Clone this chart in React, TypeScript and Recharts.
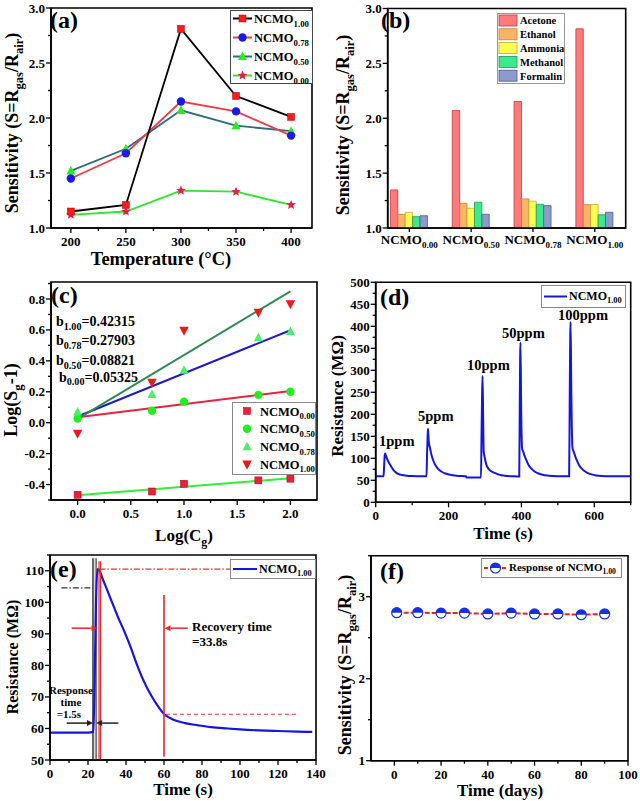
import React from 'react';
import {
  LineChart, Line, XAxis, YAxis, BarChart, Bar, ComposedChart, Scatter,
  ReferenceArea, ReferenceLine, Legend,
} from 'recharts';

const FONT = '"Liberation Serif", "DejaVu Serif", serif';

// ---------------- (a) sensitivity vs temperature
const tempsA = [200, 250, 300, 350, 400];
const sensA100 = [1.15, 1.21, 2.81, 2.2, 2.01];
const sensA078 = [1.45, 1.68, 2.15, 2.06, 1.84];
const sensA050 = [1.52, 1.72, 2.07, 1.93, 1.88];
const sensA000 = [1.12, 1.15, 1.34, 1.33, 1.21];
const xTicksA = [200, 225, 250, 275, 300, 325, 350, 375, 400];
const xMajorA = [200, 250, 300, 350, 400];
const yTicksA = [1, 1.25, 1.5, 1.75, 2, 2.25, 2.5, 2.75, 3];
const yMajorA = [1, 1.5, 2, 2.5, 3];

// ---------------- (b) selectivity bars
const samplesB = ['0.00', '0.50', '0.78', '1.00'];
const gasesB = ['Acetone', 'Ethanol', 'Ammonia', 'Methanol', 'Formalin'];
const acetoneB = [1.347, 2.07, 2.153, 2.815];
const ethanolB = [1.125, 1.225, 1.265, 1.213];
const ammoniaB = [1.143, 1.18, 1.244, 1.213];
const methanolB = [1.103, 1.235, 1.216, 1.12];
const formalinB = [1.112, 1.125, 1.204, 1.143];
const xTicksB = [1, 2, 3, 4];

// ---------------- (c) log-log fits
const logConcC = [0, 0.699, 1, 1.699, 2];
const c000 = [-0.466, -0.445, -0.395, -0.373, -0.362];
const c050 = [0.027, 0.077, 0.135, 0.18, 0.2];
const c078 = [0.07, 0.183, 0.34, 0.55, 0.59];
const c100 = [-0.07, 0.26, 0.596, 0.713, 0.768];
const fitXC = [0, 2];
const fit000 = [-0.47, -0.36];
const fit050 = [0.035, 0.205];
const fit078 = [0.04, 0.598];
const fit100 = [0.025, 0.85];
const slopeSubsC = ['1.00', '0.78', '0.50', '0.00'];
const slopeValsC = ['0.42315', '0.27903', '0.08821', '0.05325'];
const xTicksC = [0, 0.25, 0.5, 0.75, 1, 1.25, 1.5, 1.75, 2];
const xMajorC = [0, 0.5, 1, 1.5, 2];
const yTicksC = [-0.5, -0.4, -0.3, -0.2, -0.1, 0, 0.1, 0.2, 0.3, 0.4, 0.5, 0.6, 0.7, 0.8, 0.9];
const yMajorC = [-0.4, -0.2, 0, 0.2, 0.4, 0.6, 0.8];

// ---------------- (d) dynamic response (time s, resistance MOhm)
const curveD: [number, number][] = [
  [0, 59], [21.5, 59], [23, 80], [24.5, 105], [25.5, 111], [28, 106], [31, 99], [35, 92], [40, 85],
  [45, 78], [50, 72], [56, 67.5], [63, 64], [72, 62], [85, 60.5], [100, 59.7], [120, 59.3], [139.5, 59],
  [141, 110], [142.5, 150], [143.5, 167], [146, 135], [149, 124], [153, 108], [158, 95], [164, 84],
  [171, 76], [180, 70], [191, 65.5], [205, 62.5], [222, 60.5], [248, 59.3], [249, 56.5], [289, 56.5],
  [290.5, 150], [292, 240], [293.3, 287], [295, 190], [296.5, 115], [299, 103], [303.5, 86], [309, 77],
  [316, 71], [326, 67], [338, 63], [355, 60.3], [375, 59.2], [394, 58.5],
  [395.3, 200], [396.5, 330], [397.5, 363], [399.5, 200], [402, 122], [405, 115], [409, 105], [414, 95],
  [420, 84], [428, 76], [436, 70], [445, 66], [458, 62.5], [475, 60.5], [500, 59.3], [531, 59],
  [532.5, 220], [534, 380], [535, 410], [537, 250], [540, 125], [544, 114], [548, 104], [553, 94],
  [558, 85], [565, 77], [572, 71.5], [581, 67], [592, 63.5], [605, 61], [620, 59.8], [650, 59.2], [700, 59],
];
const ppmLabelsD = ['1ppm', '5ppm', '10ppm', '50ppm', '100ppm'];
const xTicksD = [0, 100, 200, 300, 400, 500, 600, 700];
const xMajorD = [0, 200, 400, 600];
const yTicksD = [0, 25, 50, 75, 100, 125, 150, 175, 200, 225, 250, 275, 300, 325, 350, 375, 400, 425, 450, 475, 500];
const yMajorD = [0, 50, 100, 150, 200, 250, 300, 350, 400, 450, 500];

// ---------------- (e) single 1 ppm cycle
const curveE: [number, number][] = [
  [0, 58.7], [10, 58.7], [20, 58.7], [22.8, 58.9], [23.5, 75], [24.2, 100], [25, 110.5], [26, 110],
  [28, 107], [30, 104], [33, 99.5], [36, 95], [38.6, 91.5], [42, 86.5], [45.6, 80.5], [49, 75.5], [53.5, 70.2],
  [56, 67.8], [60, 64.6], [65, 62.8], [71, 61.7], [78, 61], [85, 60.4], [93, 60], [100, 59.7], [110, 59.4],
  [120, 59.2], [130, 59], [138, 58.9],
];
const xTicksE = [0, 10, 20, 30, 40, 50, 60, 70, 80, 90, 100, 110, 120, 130, 140];
const xMajorE = [0, 20, 40, 60, 80, 100, 120, 140];
const yTicksE = [50, 55, 60, 65, 70, 75, 80, 85, 90, 95, 100, 105, 110, 115];
const yMajorE = [50, 60, 70, 80, 90, 100, 110];

// ---------------- (f) long-term stability
const daysF = [1, 10, 20, 30, 40, 50, 60, 70, 80, 90];
const sensF = [2.805, 2.805, 2.8, 2.8, 2.79, 2.8, 2.79, 2.79, 2.78, 2.79];
const xTicksF = [0, 10, 20, 30, 40, 50, 60, 70, 80, 90, 100];
const xMajorF = [0, 20, 40, 60, 80, 100];
const yTicksF = [1, 1.5, 2, 2.5, 3, 3.5];
const yMajorF = [1, 2, 3];

// ================= helpers
type Part = [string, boolean];
const SENS_PARTS: Part[] = [['Sensitivity (S=R', false], ['gas', true], ['/R', false], ['air', true], [')', false]];
const AXIS = { stroke: '#000', strokeWidth: 1.6 };
const isIn = (arr: number[], v: number) => arr.some((m) => Math.abs(m - v) < 1e-6);

function RichText(props: any) {
  const { px, py, parts, fs, rotate = false, anchor = 'middle', center = false, fill = '#000', subScale = 0.7 } = props;
  const sub = fs * subScale;
  const shift = fs * 0.28;
  let inSub = false;
  const spans = (parts as Part[]).map(([t, isSub], i) => {
    let dy = 0;
    if (isSub && !inSub) dy = shift;
    if (!isSub && inSub) dy = -shift;
    inSub = isSub;
    return (
      <tspan key={i} dy={dy} fontSize={isSub ? sub : fs}>{t}</tspan>
    );
  });
  const y = center ? py + fs * 0.35 : py;
  return (
    <text
      x={px}
      y={y}
      textAnchor={anchor}
      fontFamily={FONT}
      fontWeight="bold"
      fontSize={fs}
      fill={fill}
      transform={rotate ? `rotate(-90 ${px} ${py})` : undefined}
    >
      {spans}
    </text>
  );
}

function AxisTitle(props: any) {
  return <RichText px={props.cx0} py={props.cy0} parts={props.parts} fs={props.fs} rotate={props.rot} center />;
}

const xTick = (majors: number[], fmt: (v: number) => string, fs = 13) => (p: any) => {
  const { x, y, payload } = p;
  const v = Number(payload.value);
  const major = isIn(majors, v);
  return (
    <g>
      <line x1={x} x2={x} y1={y} y2={y + (major ? 5 : 3)} stroke="#000" strokeWidth={1.3} />
      {major ? (
        <text x={x} y={y + 18} textAnchor="middle" fontFamily={FONT} fontWeight="bold" fontSize={fs} fill="#000">
          {fmt(v)}
        </text>
      ) : null}
    </g>
  );
};

const yTick = (majors: number[], fmt: (v: number) => string, fs = 13) => (p: any) => {
  const { x, y, payload } = p;
  const v = Number(payload.value);
  const major = isIn(majors, v);
  return (
    <g>
      <line x1={x} x2={x - (major ? 5 : 3)} y1={y} y2={y} stroke="#000" strokeWidth={1.3} />
      {major ? (
        <text x={x - 6} y={y} dy="0.35em" textAnchor="end" fontFamily={FONT} fontWeight="bold" fontSize={fs} fill="#000">
          {fmt(v)}
        </text>
      ) : null}
    </g>
  );
};

const f1 = (v: number) => v.toFixed(1);
const f0 = (v: number) => String(Math.round(v));
const axisCommon = { tickLine: false, tickSize: 0, tickMargin: 0, interval: 0 as const, axisLine: AXIS, allowDataOverflow: true };

// markers
const mSquare = (cx: number, cy: number, fill: string, s = 7) => (
  <rect x={cx - s / 2} y={cy - s / 2} width={s} height={s} fill={fill} stroke="#b00010" strokeWidth={0.5} />
);
const mCircle = (cx: number, cy: number, fill: string, r = 4.2) => <circle cx={cx} cy={cy} r={r} fill={fill} />;
const mTriUp = (cx: number, cy: number, fill: string, s = 9) => (
  <polygon points={`${cx},${cy - s * 0.55} ${cx - s / 2},${cy + s * 0.4} ${cx + s / 2},${cy + s * 0.4}`} fill={fill} />
);
const mTriDown = (cx: number, cy: number, fill: string, s = 9.5) => (
  <polygon points={`${cx},${cy + s * 0.55} ${cx - s / 2},${cy - s * 0.4} ${cx + s / 2},${cy - s * 0.4}`} fill={fill} />
);
const mStar = (cx: number, cy: number, fill: string, R = 5) => {
  const pts: string[] = [];
  for (let k = 0; k < 10; k++) {
    const r = k % 2 === 0 ? R : R * 0.45;
    const a = -Math.PI / 2 + (k * Math.PI) / 5;
    pts.push(`${cx + r * Math.cos(a)},${cy + r * Math.sin(a)}`);
  }
  return <polygon points={pts.join(' ')} fill={fill} />;
};
const mHalf = (cx: number, cy: number, r = 5) => (
  <g>
    <circle cx={cx} cy={cy} r={r} fill="#fff" stroke="#1530e0" strokeWidth={1.2} />
    <path d={`M ${cx - r} ${cy} A ${r} ${r} 0 0 1 ${cx + r} ${cy} Z`} fill="#1530e0" />
  </g>
);

const dotFn = (draw: (cx: number, cy: number) => any) => (p: any) => {
  if (p.cx == null || p.cy == null) return <g key={p.index} />;
  return <g key={p.index}>{draw(p.cx, p.cy)}</g>;
};

// ================= Panel (a)
const seriesA = [
  { key: 'a100', sub: '1.00', line: '#000000', mk: (x: number, y: number) => mSquare(x, y, '#ff1a1a') },
  { key: 'a078', sub: '0.78', line: '#f03a4a', mk: (x: number, y: number) => mCircle(x, y, '#1a1ae8') },
  { key: 'a050', sub: '0.50', line: '#2c6a80', mk: (x: number, y: number) => mTriUp(x, y, '#22ee22') },
  { key: 'a000', sub: '0.00', line: '#2ee62e', mk: (x: number, y: number) => mStar(x, y, '#ee1a4a') },
];

function LegendA() {
  return (
    <svg width={83} height={74} style={{ display: 'block', overflow: 'visible' }}>
      <rect x={0.5} y={0.5} width={82} height={73} fill="#fff" stroke="#444" strokeWidth={1} />
      {seriesA.map((s, i) => {
        const cy = 8.5 + i * 19;
        return (
          <g key={s.key}>
            <line x1={3} x2={22} y1={cy} y2={cy} stroke={s.line} strokeWidth={2} />
            {s.mk(12.5, cy)}
            <RichText px={24} py={cy + 4.5} anchor="start" fs={12.5} parts={[['NCMO', false], [s.sub, true]]} />
          </g>
        );
      })}
    </svg>
  );
}

function PanelA() {
  const data = tempsA.map((t, i) => ({ t, a100: sensA100[i], a078: sensA078[i], a050: sensA050[i], a000: sensA000[i] }));
  return (
    <LineChart width={320} height={265} data={data} margin={{ top: 8, right: 8, left: 0, bottom: 0 }} style={{ fontFamily: FONT }}>
      <XAxis dataKey="t" type="number" domain={[182, 419]} ticks={xTicksA} tick={xTick(xMajorA, f0)} height={37} {...axisCommon}
        label={<AxisTitle cx0={161} cy0={259} fs={18.5} parts={[['Temperature (°C)', false]]} />} />
      <YAxis type="number" domain={[1, 3]} ticks={yTicksA} tick={yTick(yMajorA, f1)} width={51} {...axisCommon}
        label={<AxisTitle cx0={12} cy0={123} fs={18} rot parts={SENS_PARTS} />} />
      <ReferenceArea x1={182} x2={419} y1={1} y2={3} fill="none" stroke="#000" strokeWidth={1.6} />
      {[...seriesA].reverse().map((s) => (
        <Line key={s.key} dataKey={s.key} type="linear" stroke={s.line} strokeWidth={1.8} dot={dotFn(s.mk)} activeDot={false} isAnimationActive={false} />
      ))}
      <Legend layout="horizontal" verticalAlign="middle" align="center" content={<LegendA />}
        wrapperStyle={{ left: 230, top: 10, width: 83, height: 74 }} />
    </LineChart>
  );
}

// ================= Panel (b)
const barStyles = [
  { key: 'acetone', fill: '#ff7b7b', stroke: '#c03838' },
  { key: 'ethanol', fill: '#fbb466', stroke: '#c88030' },
  { key: 'ammonia', fill: '#fdfc50', stroke: '#b8b030' },
  { key: 'methanol', fill: '#3ee88c', stroke: '#209858' },
  { key: 'formalin', fill: '#8b9bcb', stroke: '#4a5a98' },
];

function LegendB() {
  return (
    <svg width={68} height={71} style={{ display: 'block', overflow: 'visible' }}>
      <rect x={0.5} y={0.5} width={67} height={70} fill="#fff" stroke="#999" strokeWidth={1} />
      {gasesB.map((g, i) => {
        const cy = 7.5 + i * 13.8;
        const st = barStyles[i];
        return (
          <g key={g}>
            <rect x={2} y={cy - 5.5} width={18} height={11} fill={st.fill} stroke={st.stroke} strokeWidth={0.8} />
            <RichText px={23} py={cy + 3.8} anchor="start" fs={10.5} parts={[[g, false]]} />
          </g>
        );
      })}
    </svg>
  );
}

const BTick = (p: any) => {
  const { x, y, payload } = p;
  const idx = Math.round(Number(payload.value)) - 1;
  return (
    <g>
      <line x1={x} x2={x} y1={y} y2={y + 4} stroke="#000" strokeWidth={1.3} />
      <RichText px={x} py={y + 16} fs={13} parts={[['NCMO', false], [samplesB[idx] ?? '', true]]} />
    </g>
  );
};

function PanelB() {
  const data = samplesB.map((s, i) => ({
    pos: i + 1, acetone: acetoneB[i], ethanol: ethanolB[i], ammonia: ammoniaB[i], methanol: methanolB[i], formalin: formalinB[i],
  }));
  return (
    <BarChart width={320} height={265} data={data} barGap={0} margin={{ top: 8.5, right: 14.3, left: 0, bottom: 0 }} style={{ fontFamily: FONT }}>
      <XAxis dataKey="pos" type="number" domain={[0.65, 4.5]} ticks={xTicksB} tick={BTick} height={37} {...axisCommon} />
      <YAxis type="number" domain={[1, 3]} ticks={yTicksA} tick={yTick(yMajorA, f1)} width={67.7} {...axisCommon}
        label={<AxisTitle cx0={23} cy0={125} fs={18} rot parts={SENS_PARTS} />} />
      <ReferenceArea x1={0.65} x2={4.5} y1={1} y2={3} fill="none" stroke="#000" strokeWidth={1.6} />
      {barStyles.map((b) => (
        <Bar key={b.key} dataKey={b.key} fill={b.fill} stroke={b.stroke} strokeWidth={0.8} barSize={7.4} isAnimationActive={false} />
      ))}
      <Legend layout="horizontal" verticalAlign="middle" align="center" content={<LegendB />}
        wrapperStyle={{ left: 176.7, top: 13.3, width: 68, height: 71 }} />
    </BarChart>
  );
}

// ================= Panel (c)
const seriesC = [
  { key: 'c000', sub: '0.00', vals: c000, mk: (x: number, y: number) => mSquare(x, y, '#f01c3c', 7) },
  { key: 'c050', sub: '0.50', vals: c050, mk: (x: number, y: number) => mCircle(x, y, '#22ee22', 4.2) },
  { key: 'c078', sub: '0.78', vals: c078, mk: (x: number, y: number) => mTriUp(x, y, '#4cee6a', 9) },
  { key: 'c100', sub: '1.00', vals: c100, mk: (x: number, y: number) => mTriDown(x, y, '#ee1818', 9.5) },
];
const fitsC = [
  { key: 'f000', vals: fit000, color: '#33ee33' },
  { key: 'f050', vals: fit050, color: '#ee2040' },
  { key: 'f078', vals: fit078, color: '#1a1acc' },
  { key: 'f100', vals: fit100, color: '#2e8a50' },
];

function LegendC() {
  return (
    <svg width={84} height={73} style={{ display: 'block', overflow: 'visible' }}>
      <rect x={0.5} y={0.5} width={83} height={72} fill="#fff" stroke="#888" strokeWidth={1} />
      {seriesC.map((s, i) => {
        const cy = 9 + i * 17.8;
        return (
          <g key={s.key}>
            {s.mk(15, cy)}
            <RichText px={28} py={cy + 4.5} anchor="start" fs={12.5} parts={[['NCMO', false], [s.sub, true]]} />
          </g>
        );
      })}
    </svg>
  );
}

function PanelC() {
  return (
    <ComposedChart width={320} height={280} margin={{ top: 17, right: 3, left: 0, bottom: 0 }} style={{ fontFamily: FONT }}>
      <XAxis dataKey="x" type="number" domain={[-0.25, 2.25]} ticks={xTicksC} tick={xTick(xMajorC, f1)} height={45} {...axisCommon}
        label={<AxisTitle cx0={184} cy0={270} fs={17} parts={[['Log(C', false], ['g', true], [')', false]]} />} />
      <YAxis type="number" domain={[-0.5, 0.91]} ticks={yTicksC} tick={yTick(yMajorC, f1)} width={51} {...axisCommon}
        label={<AxisTitle cx0={11} cy0={135} fs={18} rot parts={[['Log(S', false], ['g', true], ['-1)', false]]} />} />
      <ReferenceArea x1={-0.25} x2={2.25} y1={-0.5} y2={0.91} fill="none" stroke="#000" strokeWidth={1.6} />
      {fitsC.map((f) => (
        <Line key={f.key} data={fitXC.map((x, i) => ({ x, y: f.vals[i] }))} dataKey="y" type="linear" stroke={f.color}
          strokeWidth={2} dot={false} activeDot={false} isAnimationActive={false} />
      ))}
      {seriesC.map((s) => (
        <Scatter key={s.key} data={logConcC.map((x, i) => ({ x, y: s.vals[i] }))} dataKey="y"
          shape={(p: any) => <g>{s.mk(p.cx, p.cy)}</g>} isAnimationActive={false} />
      ))}
      <Legend layout="horizontal" verticalAlign="middle" align="center" content={<LegendC />}
        wrapperStyle={{ left: 231.7, top: 136.7, width: 84, height: 73 }} />
    </ComposedChart>
  );
}

// ================= Panel (d)
function LegendLine(props: any) {
  const { w, h, text, sub, fs = 12, lineEnd = 26, marker = null, dashed = false, color = '#1515e0' } = props;
  return (
    <svg width={w} height={h} style={{ display: 'block', overflow: 'visible' }}>
      <rect x={0.5} y={0.5} width={w - 1} height={h - 1} fill="#fff" stroke="#888" strokeWidth={1} />
      <line x1={3} x2={lineEnd} y1={h / 2} y2={h / 2} stroke={color} strokeWidth={2} strokeDasharray={dashed ? '4 2' : undefined} />
      {marker ? marker((3 + lineEnd) / 2, h / 2) : null}
      <RichText px={lineEnd + 2} py={h / 2 + fs * 0.3} anchor="start" fs={fs} parts={[[text, false], [sub, true]]} />
    </svg>
  );
}

function PanelD() {
  const data = curveD.map(([t, r]) => ({ t, r }));
  return (
    <LineChart width={320} height={280} data={data} margin={{ top: 17.3, right: 9.3, left: 0, bottom: 0 }} style={{ fontFamily: FONT }}>
      <XAxis dataKey="t" type="number" domain={[0, 700]} ticks={xTicksD} tick={xTick(xMajorD, f0)} height={42.7} {...axisCommon}
        label={<AxisTitle cx0={183} cy0={268} fs={17} parts={[['Time (s)', false]]} />} />
      <YAxis type="number" domain={[0, 500]} ticks={yTicksD} tick={yTick(yMajorD, f0)} width={55.7} {...axisCommon}
        label={<AxisTitle cx0={17} cy0={131} fs={17} rot parts={[['Resistance (MΩ)', false]]} />} />
      <ReferenceArea x1={0} x2={700} y1={0} y2={500} fill="none" stroke="#000" strokeWidth={1.6} />
      <Line dataKey="r" type="monotone" stroke="#1515e0" strokeWidth={2} dot={false} activeDot={false} isAnimationActive={false} />
      <Legend layout="horizontal" verticalAlign="middle" align="center"
        content={<LegendLine w={85} h={23} text="NCMO" sub="1.00" fs={12} lineEnd={26} />}
        wrapperStyle={{ left: 221, top: 20, width: 85, height: 23 }} />
    </LineChart>
  );
}

// ================= Panel (e)
const arrowShape = (color: string) => (p: any) => {
  const { x1, y1, x2, y2 } = p;
  if ([x1, y1, x2, y2].some((v) => v == null || Number.isNaN(v))) return <g />;
  const ang = Math.atan2(y2 - y1, x2 - x1);
  const L = 6;
  const W = 3;
  const bx = x2 - L * Math.cos(ang);
  const by = y2 - L * Math.sin(ang);
  const pts = `${x2},${y2} ${bx - W * Math.sin(ang)},${by + W * Math.cos(ang)} ${bx + W * Math.sin(ang)},${by - W * Math.cos(ang)}`;
  return (
    <g>
      <line x1={x1} y1={y1} x2={bx} y2={by} stroke={color} strokeWidth={1.5} />
      <polygon points={pts} fill={color} />
    </g>
  );
};

function PanelE() {
  const data = curveE.map(([t, r]) => ({ t, r }));
  return (
    <LineChart width={332} height={271} data={data} margin={{ top: 25, right: 16, left: 0, bottom: 0 }} style={{ fontFamily: FONT }}>
      <XAxis dataKey="t" type="number" domain={[0, 140]} ticks={xTicksE} tick={xTick(xMajorE, f0)} height={41} {...axisCommon}
        label={<AxisTitle cx0={183} cy0={259} fs={17} parts={[['Time (s)', false]]} />} />
      <YAxis type="number" domain={[50, 115]} ticks={yTicksE} tick={yTick(yMajorE, f0)} width={50} {...axisCommon}
        label={<AxisTitle cx0={12} cy0={127} fs={16} rot parts={[['Resistance (MΩ)', false]]} />} />
      <ReferenceArea x1={0} x2={140} y1={50} y2={115} fill="none" stroke="#000" strokeWidth={1.6} />
      <ReferenceArea x1={22.6} x2={24.3} y1={50} y2={114} fill="#c8c8c8" fillOpacity={0.7} stroke="none" />
      <ReferenceLine segment={[{ x: 22.6, y: 50 }, { x: 22.6, y: 114 }]} stroke="#222" strokeWidth={1.3} />
      <ReferenceLine segment={[{ x: 24.3, y: 50 }, { x: 24.3, y: 114 }]} stroke="#555" strokeWidth={1.3} />
      <ReferenceLine segment={[{ x: 6, y: 104.6 }, { x: 22.6, y: 104.6 }]} stroke="#333" strokeWidth={1.2} strokeDasharray="6 2 1.5 2" />
      <ReferenceLine segment={[{ x: 26, y: 110.5 }, { x: 140, y: 110.5 }]} stroke="#f03030" strokeWidth={1.2} strokeDasharray="6 2 1.5 2" />
      <ReferenceLine segment={[{ x: 61, y: 64.5 }, { x: 130, y: 64.5 }]} stroke="#f03030" strokeWidth={1.2} strokeDasharray="4 3" />
      <Line dataKey="r" type="monotone" stroke="#1515e0" strokeWidth={2.2} dot={false} activeDot={false} isAnimationActive={false} />
      <ReferenceLine segment={[{ x: 25.8, y: 50 }, { x: 25.8, y: 113 }]} stroke="#e82828" strokeWidth={1.2} />
      <ReferenceLine segment={[{ x: 26.6, y: 50 }, { x: 26.6, y: 113 }]} stroke="#e82828" strokeWidth={1.2} />
      <ReferenceLine segment={[{ x: 60, y: 51 }, { x: 60, y: 102.3 }]} stroke="#e82828" strokeWidth={1.6} />
      <ReferenceLine segment={[{ x: 11.4, y: 91.8 }, { x: 25, y: 91.8 }]} shape={arrowShape('#e82828')} />
      <ReferenceLine segment={[{ x: 72.5, y: 91.8 }, { x: 60.3, y: 91.8 }]} shape={arrowShape('#e82828')} />
      <ReferenceLine segment={[{ x: 8.8, y: 61.7 }, { x: 22.6, y: 61.7 }]} shape={arrowShape('#222')} />
      <ReferenceLine segment={[{ x: 36, y: 61.7 }, { x: 24.3, y: 61.7 }]} shape={arrowShape('#222')} />
      <Legend layout="horizontal" verticalAlign="middle" align="center"
        content={<LegendLine w={86} h={20} text="NCMO" sub="1.00" fs={12} lineEnd={27} />}
        wrapperStyle={{ left: 230, top: 29, width: 86, height: 20 }} />
    </LineChart>
  );
}

// ================= Panel (f)
function PanelF() {
  const data = daysF.map((d, i) => ({ d, s: sensF[i] }));
  return (
    <LineChart width={320} height={271} data={data} margin={{ top: 25.7, right: 12, left: 0, bottom: 0 }} style={{ fontFamily: FONT }}>
      <XAxis dataKey="d" type="number" domain={[-10, 100]} ticks={xTicksF} tick={xTick(xMajorF, f0)} height={40.3} {...axisCommon}
        label={<AxisTitle cx0={180} cy0={260} fs={17} parts={[['Time (days)', false]]} />} />
      <YAxis type="number" domain={[1, 3.5]} ticks={yTicksF} tick={yTick(yMajorF, f0)} width={51} {...axisCommon}
        label={<AxisTitle cx0={25} cy0={135} fs={18} rot parts={SENS_PARTS} />} />
      <ReferenceArea x1={-10} x2={100} y1={1} y2={3.5} fill="none" stroke="#000" strokeWidth={1.6} />
      <Line dataKey="s" type="linear" stroke="#f02020" strokeWidth={2} strokeDasharray="5 2" dot={dotFn((x, y) => mHalf(x, y, 5))}
        activeDot={false} isAnimationActive={false} />
      <Legend layout="horizontal" verticalAlign="middle" align="center"
        content={<LegendLine w={141} h={20} text="Response of NCMO" sub="1.00" fs={11} lineEnd={26} color="#f02020" dashed
          marker={(x: number, y: number) => mHalf(x, y, 5)} />}
        wrapperStyle={{ left: 161, top: 28, width: 141, height: 20 }} />
    </LineChart>
  );
}

// ================= Overlay texts
function Overlay() {
  const ppmPos = [[379, 446], [418, 421], [467, 370], [502, 338], [558, 320]];
  return (
    <svg width={640} height={801} style={{ position: 'absolute', left: 0, top: 0, pointerEvents: 'none' }}>
      <RichText px={50} py={28} fs={24} anchor="start" parts={[['(a)', false]]} />
      <RichText px={381} py={28} fs={24} anchor="start" parts={[['(b)', false]]} />
      <RichText px={51} py={303} fs={24} anchor="start" parts={[['(c)', false]]} />
      <RichText px={380} py={305} fs={24} anchor="start" parts={[['(d)', false]]} />
      <RichText px={50} py={577} fs={24} anchor="start" parts={[['(e)', false]]} />
      <RichText px={380} py={579} fs={24} anchor="start" parts={[['(f)', false]]} />
      {slopeSubsC.map((s, i) => (
        <RichText key={s} px={i === 3 ? 59 : 56} py={[326, 345, 365, 381.5][i]} fs={14} anchor="start" subScale={0.72}
          parts={[['b', false], [s, true], ['=' + slopeValsC[i], false]]} />
      ))}
      {ppmLabelsD.map((l, i) => (
        <RichText key={l} px={ppmPos[i][0]} py={ppmPos[i][1]} fs={14.5} anchor="start" parts={[[l, false]]} />
      ))}
      <RichText px={192} py={631} fs={13} anchor="start" parts={[['Recovery time', false]]} />
      <RichText px={192} py={646} fs={13} anchor="start" parts={[['=33.8s', false]]} />
      <RichText px={71} py={694} fs={11} parts={[['Response', false]]} />
      <RichText px={71} py={706} fs={11} parts={[['time', false]]} />
      <RichText px={69} py={718} fs={11} parts={[['=1.5s', false]]} />
    </svg>
  );
}

export default function App() {
  return (
    <div style={{ position: 'absolute', left: 0, top: 0, width: 640, height: 801, background: '#fff', overflow: 'hidden', fontFamily: FONT }}>
      <style>{'.recharts-surface{overflow:visible}'}</style>
      <div style={{ position: 'absolute', left: 0, top: 0 }}><PanelA /></div>
      <div style={{ position: 'absolute', left: 320, top: 0 }}><PanelB /></div>
      <div style={{ position: 'absolute', left: 0, top: 265 }}><PanelC /></div>
      <div style={{ position: 'absolute', left: 320, top: 265 }}><PanelD /></div>
      <div style={{ position: 'absolute', left: 0, top: 530 }}><PanelE /></div>
      <div style={{ position: 'absolute', left: 320, top: 530 }}><PanelF /></div>
      <Overlay />
    </div>
  );
}
